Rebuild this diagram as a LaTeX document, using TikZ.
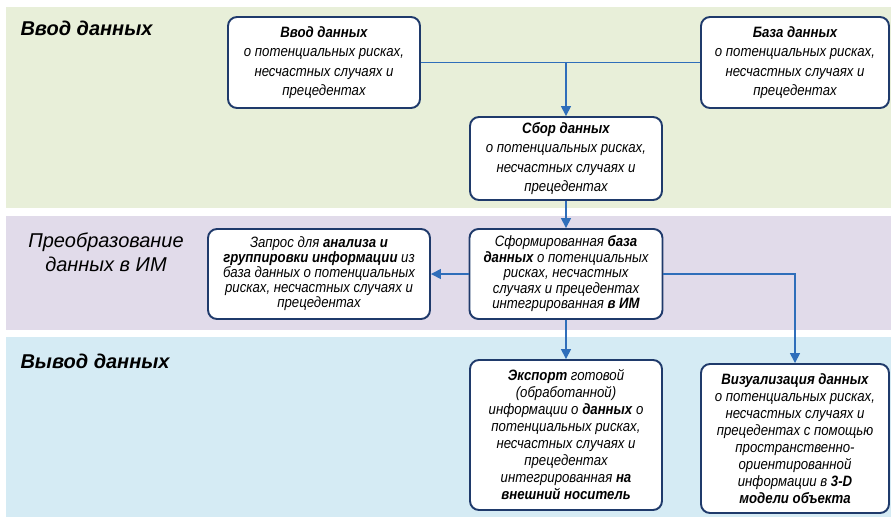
\documentclass[tikz,border=0pt]{standalone}
\usepackage{fontspec}
\setmainfont{Liberation Sans}[FakeStretch=0.88]
\newfontfamily\titlefont{Liberation Sans}
\usetikzlibrary{arrows.meta}
\definecolor{bandgreen}{HTML}{E8EFD9}
\definecolor{bandpurple}{HTML}{E1DBEA}
\definecolor{bandblue}{HTML}{D5EBF4}
\definecolor{boxline}{HTML}{1F3A6B}
\definecolor{arrowblue}{HTML}{2F6EBA}
\tikzset{
  box/.style={draw=boxline, line width=1.9pt, rounded corners=9pt, fill=white,
    align=center, inner sep=0pt, text=black},
  boxtext/.style={font=\itshape\fontsize{15}{#1}\selectfont},
  conn/.style={draw=arrowblue, line width=1.5pt},
  arr/.style={conn, -{Triangle[length=10pt,width=10pt]}},
  bandtitle/.style={font=\titlefont\itshape\fontsize{20}{24}\selectfont, text=black},
  bandtitlebold/.style={font=\titlefont\bfseries\itshape\fontsize{20}{24}\selectfont, text=black}
}
\begin{document}
\begin{tikzpicture}[x=1pt,y=-1pt]
\useasboundingbox (0,0) rectangle (891,517);
% bands
\fill[bandgreen] (6,7) rectangle (891,208);
\fill[bandpurple] (6,216) rectangle (891,330);
\fill[bandblue] (6,337) rectangle (891,517);
% band titles
\node[bandtitlebold, anchor=west] (t1) at (17,28) {Ввод данных};
\node[bandtitle, align=center] (t2) at (106,252) {Преобразование\\данных в ИМ};
\node[bandtitlebold, anchor=west] (t3) at (17,361) {Вывод данных};
% boxes
\node[box, boxtext=19.5, minimum width=192pt, minimum height=91pt] (vvod) at (324,62.5)
  {\textbf{Ввод данных}\\о потенциальных рисках,\\несчастных случаях и\\прецедентах};
\node[box, boxtext=19.5, minimum width=188pt, minimum height=91pt] (baza) at (795,62.5)
  {\textbf{База данных}\\о потенциальных рисках,\\несчастных случаях и\\прецедентах};
\node[box, boxtext=19.5, minimum width=192pt, minimum height=83pt] (sbor) at (566,158.5)
  {\textbf{Сбор данных}\\о потенциальных рисках,\\несчастных случаях и\\прецедентах};
\node[box, boxtext=15.5, minimum width=193pt, minimum height=90pt] (sform) at (566,274)
  {Сформированная \textbf{база}\\\textbf{данных} о потенциальных\\рисках, несчастных\\случаях и прецедентах\\интегрированная \textbf{в ИМ}};
\node[box, boxtext=15, minimum width=222pt, minimum height=90pt] (zapros) at (319,274)
  {Запрос для \textbf{анализа и}\\\textbf{группировки информации} из\\база данных о потенциальных\\рисках, несчастных случаях и\\прецедентах};
\node[box, boxtext=17, minimum width=192pt, minimum height=150pt] (eksport) at (566,435)
  {\textbf{Экспорт} готовой\\(обработанной)\\информации о \textbf{данных} о\\потенциальных рисках,\\несчастных случаях и\\прецедентах\\интегрированная \textbf{на}\\\textbf{внешний носитель}};
\node[box, boxtext=17, minimum width=188pt, minimum height=149pt] (viz) at (795,438.5)
  {\textbf{Визуализация данных}\\о потенциальных рисках,\\несчастных случаях и\\прецедентах с помощью\\пространственно-\\ориентированной\\информации в \textbf{3-D}\\\textbf{модели объекта}};
% connectors
\coordinate (j) at (sbor.north |- vvod.east);
\draw[conn] (vvod.east) -- (baza.west);
\draw[arr] (j) -- (sbor.north);
\draw[arr] (sbor.south) -- (sform.north);
\draw[arr] (sform.west) -- (zapros.east);
\draw[arr] (sform.east) -| (viz.north);
\draw[arr] (sform.south) -- (eksport.north);
\end{tikzpicture}
\end{document}
